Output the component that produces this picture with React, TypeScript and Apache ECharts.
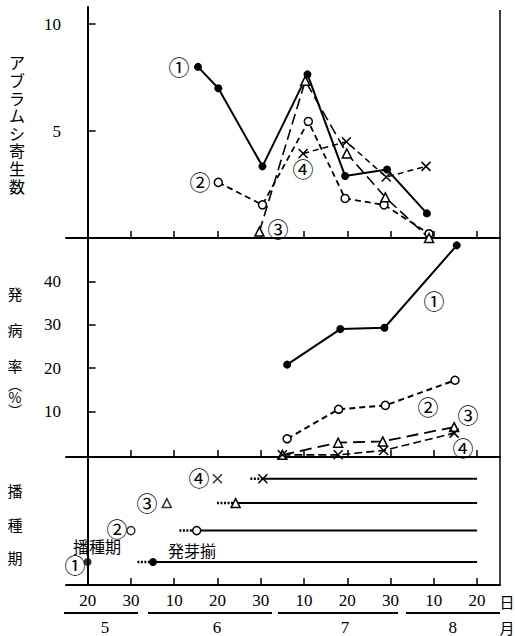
import React, { useEffect, useRef } from 'react';
import * as echarts from 'echarts';

// x unit: 10 per ten-day period, 0 = May 20
const dayTicks = [0, 10, 20, 30, 40, 50, 60, 70, 80, 90];
const dayLabels = ['20', '30', '10', '20', '30', '10', '20', '30', '10', '20'];
const monthCenters = [4, 29.9, 59.5, 84.4];
const monthLabels = ['5', '6', '7', '8'];

// Panel 1: aphid counts
const aphid1: number[][] = [[25.5, 8.0], [30.2, 7.0], [40.4, 3.35], [50.8, 7.65], [59.5, 2.9], [69.2, 3.2], [78.4, 1.15]];
const aphid2: number[][] = [[30.2, 2.6], [40.4, 1.55], [51.0, 5.45], [59.5, 1.85], [68.5, 1.55], [78.9, 0.2]];
const aphid3: number[][] = [[39.7, 0.3], [50.3, 7.35], [59.9, 3.95], [68.8, 1.9], [78.9, 0]];
const aphid4: number[][] = [[49.8, 3.95], [59.8, 4.5], [69.0, 2.85], [78.2, 3.35]];
const aphidTicks = [5, 10];

// Panel 2: disease rate (%)
const disease1: number[][] = [[46.1, 20.8], [58.4, 29.0], [68.6, 29.3], [85.3, 48.3]];
const disease2: number[][] = [[46.1, 3.7], [58.0, 10.5], [68.8, 11.4], [84.9, 17.2]];
const disease3: number[][] = [[45, 0], [57.9, 2.8], [68.2, 3.1], [84.7, 6.4]];
const disease4: number[][] = [[45, 0], [57.9, 0], [68.4, 1.0], [84.7, 5.0]];
const diseaseTicks = [10, 20, 30, 40];

// Panel 3: sowing / germination periods
const rowY = [1.8, 4.25, 6.4, 8.3];
const sowDates = [0, 10, 18.3, 30];
const leadStart = [11.5, 21.2, 29.9, 37.6];
const germDates = [15.1, 25.2, 34.2, 40.5];
const lineEnd = 90;

const CROSS = 'path://M0,0L10,10M10,0L0,10';
const symbols = ['circle', 'circle', 'triangle', CROSS];
const fills = ['#000', '#fff', '#fff', 'transparent'];
const sizes = [8, 8, 9, 9];

const SERIF = "'Liberation Serif', 'DejaVu Serif', serif";
const JP = "'Noto Sans CJK JP', sans-serif";

function itemStyle(i: number) {
  return { color: fills[i], borderColor: '#000', borderWidth: i === 0 ? 0 : 1.5 };
}

function lineSeries(data: number[][], i: number, grid: number, type: any, width: number) {
  return {
    type: 'line',
    xAxisIndex: grid,
    yAxisIndex: grid,
    data,
    symbol: symbols[i],
    symbolSize: sizes[i],
    showSymbol: true,
    itemStyle: itemStyle(i),
    lineStyle: { color: '#000', width, type },
    z: 3,
  };
}

function xAxisFor(grid: number, labels: boolean) {
  return {
    type: 'value',
    gridIndex: grid,
    min: -5,
    max: 95.3,
    position: 'bottom',
    axisLine: { show: true, onZero: false, lineStyle: { color: '#000', width: 2 } },
    axisTick: { show: true, inside: true, length: 7, customValues: dayTicks, lineStyle: { color: '#000', width: 1.5 } },
    axisLabel: labels
      ? {
          show: true,
          customValues: dayTicks,
          formatter: (v: number) => dayLabels[dayTicks.indexOf(v)] ?? '',
          color: '#000',
          fontFamily: SERIF,
          fontSize: 17,
          margin: 7,
        }
      : { show: false },
    splitLine: { show: false },
  };
}

function circled(text: string, x: number, y: number) {
  return {
    type: 'text',
    x,
    y,
    style: { text, fontFamily: JP, fontSize: 21, fill: '#000', align: 'center', verticalAlign: 'middle' },
  };
}

function jpText(text: string, x: number, y: number, size: number, lineHeight?: number) {
  return {
    type: 'text',
    x,
    y,
    style: {
      text,
      fontFamily: JP,
      fontSize: size,
      lineHeight: lineHeight ?? size,
      fill: '#000',
      align: 'center',
      verticalAlign: 'middle',
    },
  };
}

export default function App() {
  const ref = useRef<HTMLDivElement>(null);
  useEffect(() => {
    if (!ref.current) return;
    const chart = echarts.init(ref.current, null, { renderer: 'svg' });

    const series: any[] = [
      lineSeries(aphid1, 0, 0, 'solid', 2),
      lineSeries(aphid2, 1, 0, [6, 4], 1.8),
      lineSeries(aphid3, 2, 0, [11, 5], 1.6),
      lineSeries(aphid4, 3, 0, [6, 4], 1.5),
      lineSeries(disease1, 0, 1, 'solid', 2),
      lineSeries(disease2, 1, 1, [6, 4], 2),
      lineSeries(disease3, 2, 1, [12, 6], 1.8),
      lineSeries(disease4, 3, 1, [8, 4], 1.6),
    ];

    for (let i = 0; i < 4; i++) {
      series.push({
        type: 'scatter',
        xAxisIndex: 2,
        yAxisIndex: 2,
        data: [[sowDates[i], rowY[i]]],
        symbol: symbols[i],
        symbolSize: sizes[i],
        itemStyle: itemStyle(i),
        z: 4,
      });
      series.push({
        type: 'line',
        xAxisIndex: 2,
        yAxisIndex: 2,
        data: [[leadStart[i], rowY[i]], [germDates[i], rowY[i]]],
        symbol: 'none',
        lineStyle: { color: '#000', width: 2.5, type: [2, 1.5] },
        z: 2,
      });
      series.push({
        type: 'line',
        xAxisIndex: 2,
        yAxisIndex: 2,
        data: [
          { value: [germDates[i], rowY[i]], symbol: symbols[i], symbolSize: sizes[i] },
          { value: [lineEnd, rowY[i]], symbol: 'none' },
        ],
        itemStyle: itemStyle(i),
        lineStyle: { color: '#000', width: 2 },
        z: 3,
      });
    }

    const option: any = {
      animation: false,
      grid: [
        { left: 66, right: 15, top: 7, height: 231 },
        { left: 66, right: 15, top: 238, height: 219 },
        { left: 66, right: 15, top: 457, height: 128 },
      ],
      xAxis: [
        xAxisFor(0, false),
        xAxisFor(1, false),
        xAxisFor(2, true),
        {
          type: 'value',
          gridIndex: 2,
          min: -5,
          max: 95.3,
          position: 'bottom',
          offset: 27,
          axisLine: { show: false },
          axisTick: { show: false },
          splitLine: { show: false },
          axisLabel: {
            customValues: monthCenters,
            formatter: (v: number) => monthLabels[monthCenters.indexOf(v)] ?? '',
            color: '#000',
            fontFamily: SERIF,
            fontSize: 17,
            margin: 7,
          },
        },
      ],
      yAxis: [
        {
          type: 'value',
          gridIndex: 0,
          min: 0,
          max: 10.8,
          axisLine: { show: true, lineStyle: { color: '#000', width: 2 } },
          axisTick: { show: true, inside: true, length: 8, customValues: aphidTicks, lineStyle: { color: '#000', width: 1.5 } },
          axisLabel: { customValues: aphidTicks, color: '#000', fontFamily: SERIF, fontSize: 17, margin: 5 },
          splitLine: { show: false },
        },
        {
          type: 'value',
          gridIndex: 1,
          min: -0.5,
          max: 50,
          axisLine: { show: true, lineStyle: { color: '#000', width: 2 } },
          axisTick: { show: true, inside: true, length: 8, customValues: diseaseTicks, lineStyle: { color: '#000', width: 1.5 } },
          axisLabel: { customValues: diseaseTicks, color: '#000', fontFamily: SERIF, fontSize: 17, margin: 5 },
          splitLine: { show: false },
        },
        {
          type: 'value',
          gridIndex: 2,
          min: 0,
          max: 10,
          axisLine: { show: true, lineStyle: { color: '#000', width: 2 } },
          axisTick: { show: false },
          axisLabel: { show: false },
          splitLine: { show: false },
        },
      ],
      series,
      graphic: [
        { type: 'line', shape: { x1: 500, y1: 10, x2: 500, y2: 585 }, style: { stroke: '#000', lineWidth: 1.5 } },
        { type: 'line', shape: { x1: 64, y1: 613, x2: 138, y2: 613 }, style: { stroke: '#000', lineWidth: 1.8 } },
        { type: 'line', shape: { x1: 148, y1: 613, x2: 272, y2: 613 }, style: { stroke: '#000', lineWidth: 1.8 } },
        { type: 'line', shape: { x1: 278, y1: 613, x2: 398, y2: 613 }, style: { stroke: '#000', lineWidth: 1.8 } },
        { type: 'line', shape: { x1: 406, y1: 613, x2: 500, y2: 613 }, style: { stroke: '#000', lineWidth: 1.8 } },
        jpText('日', 507, 601, 15),
        jpText('月', 507, 627, 15),
        jpText('ア\nブ\nラ\nム\nシ\n寄\n生\n数', 17, 124, 16, 17.6),
        jpText('発\n病\n率', 15, 329, 15, 36),
        jpText('︵', 15, 384, 14),
        jpText('%', 15, 397, 14),
        jpText('︶', 15, 410, 14),
        jpText('播\n種\n期', 15, 524, 15, 33.5),
        circled('①', 179, 66),
        circled('②', 200, 181),
        circled('③', 278, 228),
        circled('④', 303, 168),
        circled('①', 434, 300),
        circled('②', 428, 406),
        circled('③', 468, 414),
        circled('④', 463, 447),
        circled('①', 75, 564),
        circled('②', 117, 528),
        circled('③', 147, 502),
        circled('④', 199, 477),
        jpText('播種期', 97, 546, 16),
        jpText('発芽揃', 192, 550, 16),
      ],
    };
    chart.setOption(option);
    return () => chart.dispose();
  }, []);
  return <div ref={ref} style={{ position: 'absolute', left: 0, top: 0, width: 515, height: 636 }} />;
}
